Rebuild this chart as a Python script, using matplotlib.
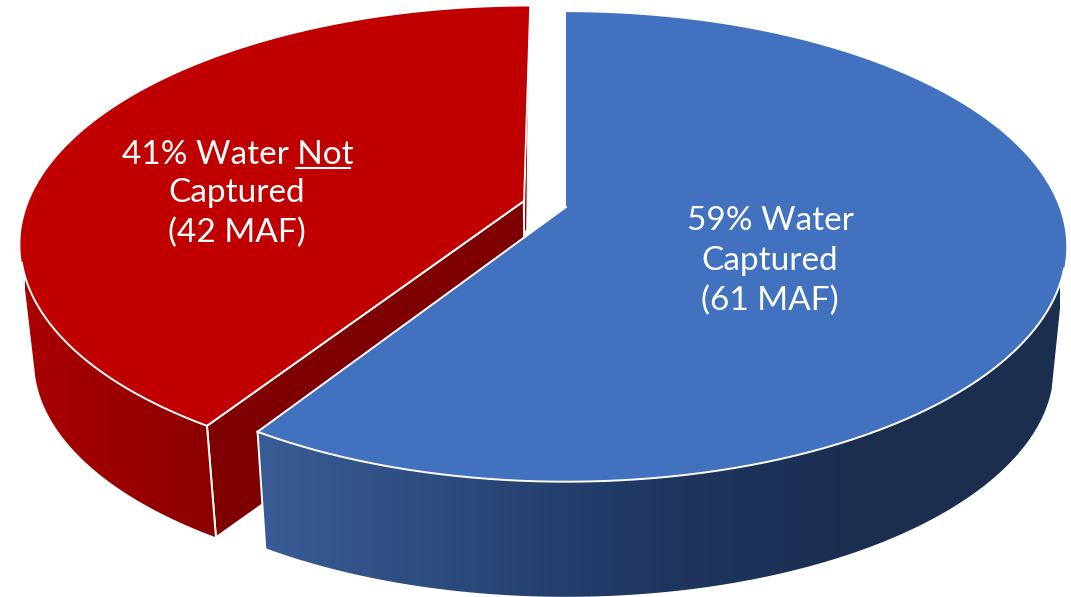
import numpy as np
import matplotlib
matplotlib.use("Agg")
import matplotlib.pyplot as plt
from matplotlib.patches import Polygon
from matplotlib.colors import LinearSegmentedColormap

shares = [59, 41]
maf = [61, 42]
slice_names = ["Water Captured", "Water Not Captured"]
top_colors = ["#4271C0", "#C00000"]
red_inner = "#7F0000"
red_back = "#A00000"
blue_wall_cmap = ["#3A5C96", "#2B4A7C", "#1F3660", "#1B2E50", "#1B2E50"]
red_wall_cmap = ["#8C0000", "#940000", "#A00000", "#AA0000"]

W, H = 1071, 597
cx, cy, cy2 = 566.0, 207.0, 329.0
a, b, k, s = 493.0, 228.0, 0.17, 0.975
ex, ey, rr = -0.086, 0.026, 1.008
red_drop = -5.0

plt.rcParams["font.family"] = ["Lato", "DejaVu Sans"]
fig = plt.figure(figsize=(W / 100, H / 100), dpi=100)
ax = fig.add_axes([0, 0, 1, 1])


def proj(theta, ox=0.0, oy=0.0, r=1.0, bottom=False, drop=0.0):
    t = np.radians(theta)
    X = ox + r * np.sin(t)
    Y = oy + r * np.cos(t)
    d = 1 + k * Y
    if bottom:
        return np.column_stack([cx + s * a * X / d, cy2 + drop - s * b * Y / d])
    return np.column_stack([cx + a * X / d, cy - b * Y / d])


def wall(th0, th1, ox, oy, r, colors, xr, z, drop=0.0):
    th = np.linspace(th0, th1, 200)
    poly = np.vstack([proj(th, ox, oy, r), proj(th[::-1], ox, oy, r, bottom=True, drop=drop)])
    patch = Polygon(poly, closed=True, fc="none", ec="none", transform=ax.transData)
    ax.add_patch(patch)
    cmap = LinearSegmentedColormap.from_list("g", colors)
    im = ax.imshow(np.linspace(0, 1, 256)[None, :], extent=[xr[0], xr[1], H, 0],
                   cmap=cmap, aspect="auto", zorder=z)
    im.set_clip_path(patch)


split = 360 * shares[0] / sum(shares)
blue_th = np.linspace(0, split, 300)
red_th = np.linspace(split, 360, 300)
edge = dict(ec="white", lw=1.4, joinstyle="round")

# red slice: inner faces, outer wall, top
ra_t = proj(np.array([0.0]), ex, ey, 0.0)[0]
ra_b = proj(np.array([0.0]), ex, ey, 0.0, bottom=True, drop=red_drop)[0]
r_f_t = proj(np.array([split]), ex, ey, rr)[0]
r_f_b = proj(np.array([split]), ex, ey, rr, bottom=True, drop=red_drop)[0]
r_back_t = proj(np.array([360.0]), ex, ey, rr)[0]

ax.add_patch(Polygon([ra_t + [0, 30], r_back_t + [-1, 20], ra_t + [3, 30]], closed=True,
                     fc=red_back, ec="white", lw=0.8, zorder=1))
ax.add_patch(Polygon([ra_t, r_f_t, r_f_b, ra_b], closed=True, fc=red_inner, zorder=2, **edge))
wall(255, split, ex, ey, rr, red_wall_cmap, (215, 25), 3, drop=red_drop)
ax.plot(*np.array([r_f_t, r_f_b]).T, color="white", lw=1.4, zorder=4)
red_top = np.vstack([ra_t, proj(red_th, ex, ey, rr)])
ax.add_patch(Polygon(red_top, closed=True, fc=top_colors[1], ec="none", zorder=5))
ax.plot(*proj(np.linspace(255, split, 100), ex, ey, rr).T, color="white", lw=1.4, zorder=6)
ax.plot(*np.array([ra_t, r_f_t]).T, color="white", lw=1.4, zorder=6)
ax.plot(*np.array([ra_t, r_back_t]).T, color="white", lw=1.0, zorder=6)

# blue slice: outer wall, top
wall(105, split, 0, 0, 1, blue_wall_cmap, (258, 1060), 7)
apex = proj(np.array([0.0]), 0, 0, 0.0)[0]
b_f_t = proj(np.array([split]))[0]
b_f_b = proj(np.array([split]), bottom=True)[0]
ax.plot(*np.array([b_f_t, b_f_b]).T, color="white", lw=1.4, zorder=8)
blue_top = np.vstack([apex, proj(blue_th)])
ax.add_patch(Polygon(blue_top, closed=True, fc=top_colors[0], ec="none", zorder=9))
ax.plot(*proj(np.linspace(105, split, 200)).T, color="white", lw=1.4, zorder=10)
ax.plot(*np.array([apex, b_f_t]).T, color="white", lw=1.4, zorder=10)

ax.set_xlim(0, W)
ax.set_ylim(H, 0)
ax.axis("off")

# labels
ts = dict(color="white", fontsize=24, ha="center", va="center", zorder=20)
ax.text(770, 221, f"{shares[0]}% Water", **ts)
ax.text(770, 261, "Captured", **ts)
ax.text(770, 301, f"({maf[0]} MAF)", **ts)
ax.text(237.5, 155, f"{shares[1]}% Water Not", **ts)
ax.text(237, 193, "Captured", **ts)
ax.text(237, 233, f"({maf[1]} MAF)", **ts)
ax.plot([296, 350], [168, 168], color="white", lw=1.5, zorder=20)

fig.savefig("out.png", dpi=100, facecolor="white")
